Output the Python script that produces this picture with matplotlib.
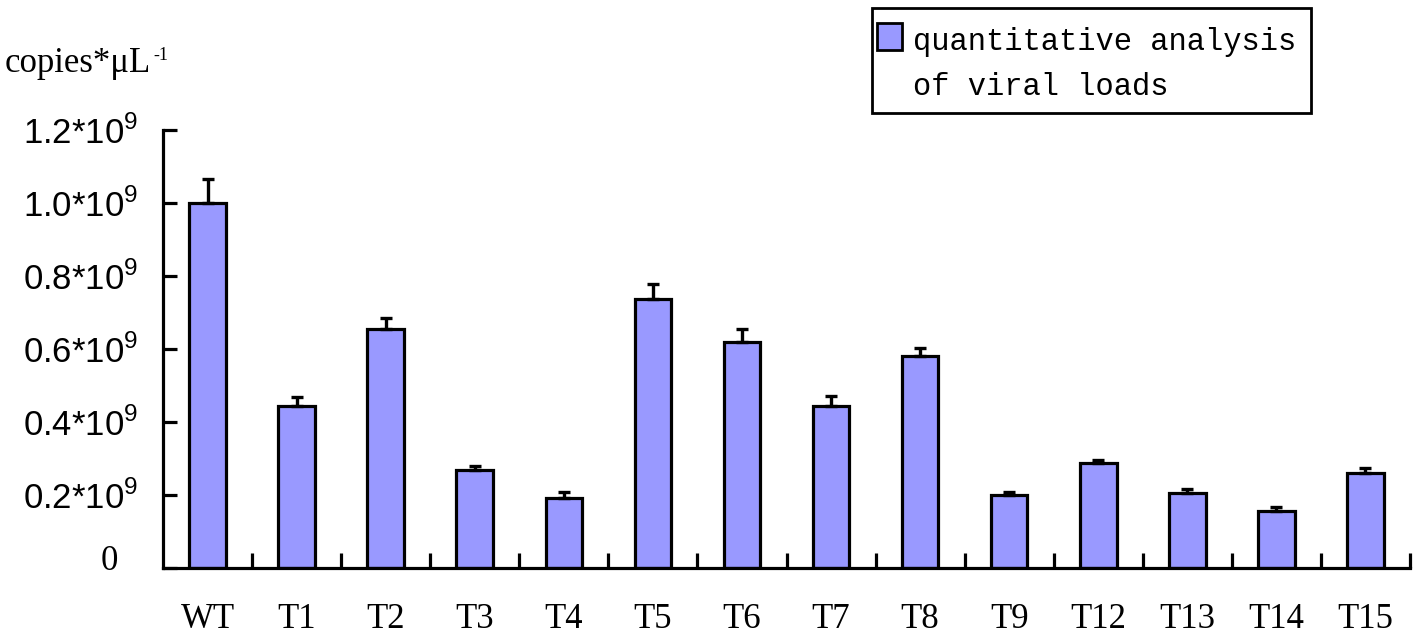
import numpy as np
import matplotlib
matplotlib.use("Agg")
from matplotlib import pyplot as plt
from matplotlib.patches import Rectangle

categories = ["WT", "T1", "T2", "T3", "T4", "T5", "T6", "T7", "T8", "T9", "T12", "T13", "T14", "T15"]
# values in units of 1e9 copies per uL
values = [1.00, 0.444, 0.655, 0.268, 0.192, 0.737, 0.619, 0.444, 0.581, 0.200, 0.288, 0.205, 0.156, 0.260]
errors = [0.066, 0.024, 0.030, 0.011, 0.016, 0.041, 0.036, 0.027, 0.022, 0.008, 0.008, 0.011, 0.011, 0.014]
ytick_vals = [0, 0.2, 0.4, 0.6, 0.8, 1.0, 1.2]
ytick_labels = [""] + [r"%.1f*10$^{\mathregular{9}}$" % v for v in ytick_vals[1:]]
legend_lines = ["quantitative analysis", "of viral loads"]

W, H = 1417, 637
fig = plt.figure(figsize=(W / 100, H / 100), dpi=100)
ax = fig.add_axes([163 / W, 1 - 568 / H, (1410 - 163) / W, (568 - 130) / H])

bar_color = "#9999ff"
x = np.arange(len(categories))
ax.bar(x, values, width=0.41, color=bar_color, edgecolor="black", linewidth=2.3, zorder=2)
ax.errorbar(x, values, yerr=[np.zeros(len(errors)), errors], fmt="none", ecolor="black",
            elinewidth=2.4, capsize=4, capthick=2.4, zorder=3)

ax.set_xlim(-0.5, len(categories) - 0.5)
ax.set_ylim(0, 1.2)
for s in ["top", "right"]:
    ax.spines[s].set_visible(False)
for s in ["left", "bottom"]:
    ax.spines[s].set_linewidth(2.3)

ax.set_yticks(ytick_vals)
ax.set_yticklabels(ytick_labels, fontfamily="Liberation Sans", fontsize=25)
ax.tick_params(axis="y", direction="in", length=10, width=2.3, pad=18)
# the zero label is set in a serif face and sits further left
ax.annotate("0", xy=(0, 0), xycoords=("axes fraction", "data"), xytext=(-54, 6),
            textcoords="offset pixels", fontfamily="Liberation Serif", fontsize=25,
            ha="center", va="center")

ax.set_xticks(x)
ax.set_xticklabels(categories, fontfamily="Liberation Serif", fontsize=25)
ax.tick_params(axis="x", which="major", length=0, pad=25)
ax.set_xticks(np.arange(len(categories)) + 0.5, minor=True)
ax.tick_params(axis="x", which="minor", direction="in", length=11, width=2.3)

ylab = fig.text(5 / W, 1 - 72 / H, "copies*μL", fontfamily="Liberation Serif",
                fontsize=25, ha="left", va="baseline")
ax.annotate("-1", xy=(1, 1), xycoords=ylab, xytext=(2, 0), textcoords="offset pixels",
            fontfamily="Liberation Serif", fontsize=13, ha="left", va="top",
            annotation_clip=False)

# legend box drawn by hand
fig.patches.append(Rectangle((872 / W, 1 - 113 / H), (1311 - 872) / W, (113 - 8) / H,
                             transform=fig.transFigure, facecolor="white", edgecolor="black",
                             linewidth=2))
fig.patches.append(Rectangle((877 / W, 1 - 50 / H), 25 / W, 27 / H, transform=fig.transFigure,
                             facecolor=bar_color, edgecolor="black", linewidth=2))
fig.text(913 / W, 1 - 50 / H, legend_lines[0], fontfamily="Liberation Mono", fontsize=22,
         ha="left", va="baseline")
fig.text(913 / W, 1 - 95 / H, legend_lines[1], fontfamily="Liberation Mono", fontsize=22,
         ha="left", va="baseline")

fig.savefig("out.png", dpi=100)
